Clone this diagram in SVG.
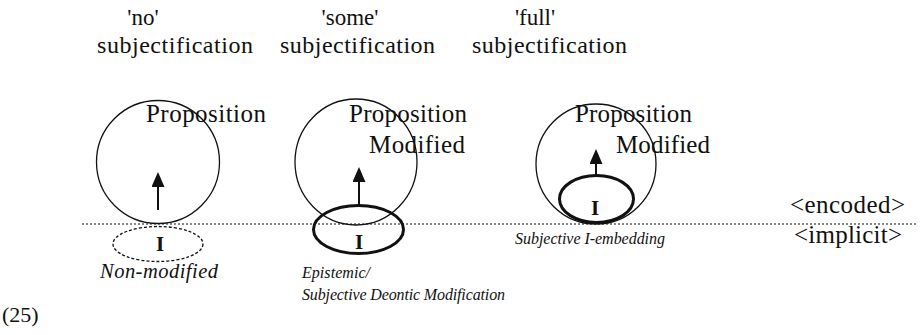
<svg xmlns="http://www.w3.org/2000/svg" width="920" height="335" viewBox="0 0 920 335">
<style>
.t{font-family:"Liberation Serif","DejaVu Serif",serif;font-size:25px;fill:#111}
.h{font-family:"Liberation Serif","DejaVu Serif",serif;font-size:23px;fill:#111}
.s{font-family:"Liberation Serif","DejaVu Serif",serif;font-size:24px;fill:#111}
.it{font-family:"Liberation Serif","DejaVu Serif",serif;font-style:italic;font-size:16px;fill:#111}
.I{font-family:"Liberation Serif","DejaVu Serif",serif;font-weight:bold;font-size:21px;fill:#111}
.c{fill:none;stroke:#111;stroke-width:1.3}
.e{fill:none;stroke:#111;stroke-width:3}
.d{fill:none;stroke:#111;stroke-width:1.3;stroke-dasharray:3 2}
.ar{stroke:#111;stroke-width:2;fill:none}
</style>
<defs>
<marker id="ah" viewBox="0 0 15 13" refX="0" refY="6.5" markerWidth="15" markerHeight="13" markerUnits="userSpaceOnUse" orient="auto">
<path d="M0,0 L15,6.5 L0,13 Z" fill="#111"/>
</marker>
</defs>
<g id="labels">
<text class="h" x="143" y="25" text-anchor="middle">'no'</text>
<text class="s" x="97" y="53" textLength="156">subjectification</text>
<text class="h" x="350" y="25" text-anchor="middle">'some'</text>
<text class="s" x="280" y="53" textLength="155">subjectification</text>
<text class="h" x="535" y="25" text-anchor="middle">'full'</text>
<text class="s" x="472" y="53" textLength="155">subjectification</text>
<text class="t" x="2" y="322" style="font-size:22px">(25)</text>
<text class="t" x="790" y="213" textLength="115">&lt;encoded&gt;</text>
<text class="t" x="794" y="243" textLength="108">&lt;implicit&gt;</text>
</g>
<g id="baseline">
<line x1="82" y1="224" x2="918" y2="224" stroke="#111" stroke-width="1.2" stroke-dasharray="2 2"/>
</g>
<g id="node-no">
<circle class="c" cx="158" cy="162" r="61.5"/>
<text class="t" x="146" y="122" textLength="120">Proposition</text>
<ellipse class="d" cx="158" cy="244" rx="45" ry="17.5"/>
<text class="I" x="160" y="251" text-anchor="middle">I</text>
<text class="it" x="100" y="278" textLength="118" style="font-size:20.5px">Non-modified</text>
</g>
<g id="node-some">
<ellipse class="c" cx="356" cy="162" rx="61" ry="63"/>
<text class="t" x="349" y="122" textLength="118">Proposition</text>
<text class="t" x="369" y="153" textLength="96">Modified</text>
<ellipse class="e" cx="358.5" cy="229.5" rx="45" ry="24"/>
<text class="I" x="359" y="249" text-anchor="middle">I</text>
<text class="it" x="302" y="278" textLength="68">Epistemic/</text>
<text class="it" x="302" y="300" textLength="203">Subjective  Deontic  Modification</text>
</g>
<g id="node-full">
<circle class="c" cx="596" cy="164" r="60"/>
<text class="t" x="575" y="122" textLength="117">Proposition</text>
<text class="t" x="616" y="153" textLength="94">Modified</text>
<ellipse class="e" cx="596.5" cy="199" rx="37" ry="23.5"/>
<text class="I" x="595" y="215" text-anchor="middle">I</text>
<text class="it" x="515" y="244" textLength="150">Subjective  I-embedding</text>
</g>
<g id="connectors">
<line class="ar" x1="158" y1="210" x2="158" y2="187" marker-end="url(#ah)"/>
<line class="ar" x1="359" y1="206" x2="359" y2="182" marker-end="url(#ah)"/>
<line class="ar" x1="596" y1="175" x2="596" y2="164" marker-end="url(#ah)"/>
</g>
</svg>
